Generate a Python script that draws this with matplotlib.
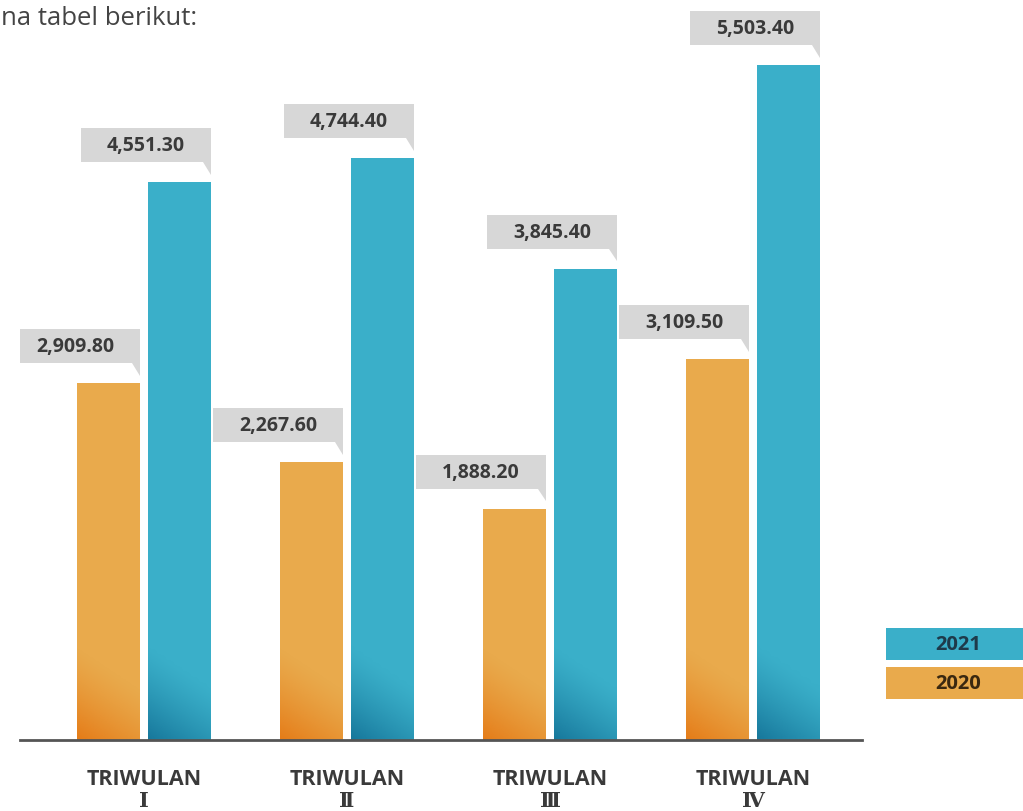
import numpy as np
import matplotlib
matplotlib.use("Agg")
import matplotlib.pyplot as plt
from matplotlib.patches import Rectangle, Polygon
from matplotlib.colors import to_rgb

plt.rcParams['font.family'] = ['Open Sans', 'DejaVu Sans']

quarters = ["TRIWULAN", "TRIWULAN", "TRIWULAN", "TRIWULAN"]
numerals = ["Ⅰ", "Ⅱ", "Ⅲ", "Ⅳ"]
val_2020 = [2909.80, 2267.60, 1888.20, 3109.50]
val_2021 = [4551.30, 4744.40, 3845.40, 5503.40]
years = ["2020", "2021"]

c = {"2020": "#E9AA4C", "2020_dark": "#E57A16",
     "2021": "#3AAFC9", "2021_dark": "#16769A",
     "box": "#D7D7D7", "txt": "#3A3A3A", "axis": "#555555"}

width = 0.31
offset = 0.175


def gradient_bar(ax, bar, dark):
    # darker corner at the bottom left of each bar
    x0, y0 = bar.get_x(), bar.get_y()
    w, h = bar.get_width(), bar.get_height()
    ny, nx = 100, 40
    yy, xx = np.mgrid[0:ny, 0:nx]
    ydat = (ny - 1 - yy) / (ny - 1) * h
    xfrac = xx / (nx - 1)
    a = np.clip(1 - ydat / 750.0 - 0.45 * xfrac, 0, 1) ** 1.3
    img = np.zeros((ny, nx, 4))
    img[..., :3] = to_rgb(dark)
    img[..., 3] = a * 0.95
    im = ax.imshow(img, extent=[x0, x0 + w, y0, y0 + h], aspect='auto',
                   interpolation='bilinear', zorder=3)
    im.set_clip_path(bar)


def label_box(ax, bar, text):
    right = bar.get_x() + bar.get_width()
    top = bar.get_height()
    bw, bh, gap = 0.64, 277, 163
    bottom = top + gap
    ax.add_patch(Rectangle((right - bw, bottom), bw, bh, facecolor=c["box"],
                           edgecolor='none', zorder=4))
    ax.add_patch(Polygon([(right - 0.04, bottom), (right, bottom), (right, bottom - 105)],
                         closed=True, facecolor=c["box"], edgecolor='none', zorder=4))
    ax.text(right - bw / 2, bottom + bh / 2, text, ha='center', va='center',
            fontsize=14, fontweight='bold', color=c["txt"], zorder=5)


fig = plt.figure(figsize=(10.23, 8.12), dpi=100)
ax = fig.add_axes([20 / 1023, 71 / 812, 842 / 1023, 741 / 812])

x = np.arange(len(quarters))
bars20 = ax.bar(x - offset, val_2020, width, color=c["2020"], zorder=2)
bars21 = ax.bar(x + offset, val_2021, width, color=c["2021"], zorder=2)

for b, v in zip(bars20, val_2020):
    gradient_bar(ax, b, c["2020_dark"])
    label_box(ax, b, f"{v:,.2f}")
for b, v in zip(bars21, val_2021):
    gradient_bar(ax, b, c["2021_dark"])
    label_box(ax, b, f"{v:,.2f}")

ax.set_xlim(-0.611, 3.537)
ax.set_ylim(0, 6044)
ax.set_xticks(x)
ax.set_xticklabels(quarters, fontsize=15.5, fontweight='bold', color=c["txt"])
ax.tick_params(axis='x', length=0, pad=20)
for xi, n in zip(x, numerals):
    ax.annotate(n, xy=(xi, 0), xycoords=('data', 'axes fraction'),
                xytext=(0, -50), textcoords='offset pixels', ha='center', va='top',
                fontsize=15, fontweight='bold', color=c["txt"],
                family=['DejaVu Serif'])
ax.set_yticks([])
for s in ['top', 'left', 'right']:
    ax.spines[s].set_visible(False)
ax.spines['bottom'].set_color(c["axis"])
ax.spines['bottom'].set_linewidth(2)
ax.spines['bottom'].set_zorder(6)

# legend as coloured bands at the right edge
leg = [("2021", c["2021"], "#1E3A4A", 151), ("2020", c["2020"], "#3A2810", 112)]
for name, col, tcol, ybot in leg:
    fig.patches.append(Rectangle((886 / 1023, ybot / 812), 0.2, 32 / 812,
                                 transform=fig.transFigure, facecolor=col,
                                 edgecolor='none'))
    fig.text(958 / 1023, (ybot + 16) / 812, name, ha='center', va='center',
             fontsize=14.5, fontweight='bold', color=tcol)

fig.text(0.001, 1 - 25 / 812, "na tabel berikut:", ha='left', va='baseline',
         fontsize=18.5, color="#444444")

fig.savefig("out.png", dpi=100)
